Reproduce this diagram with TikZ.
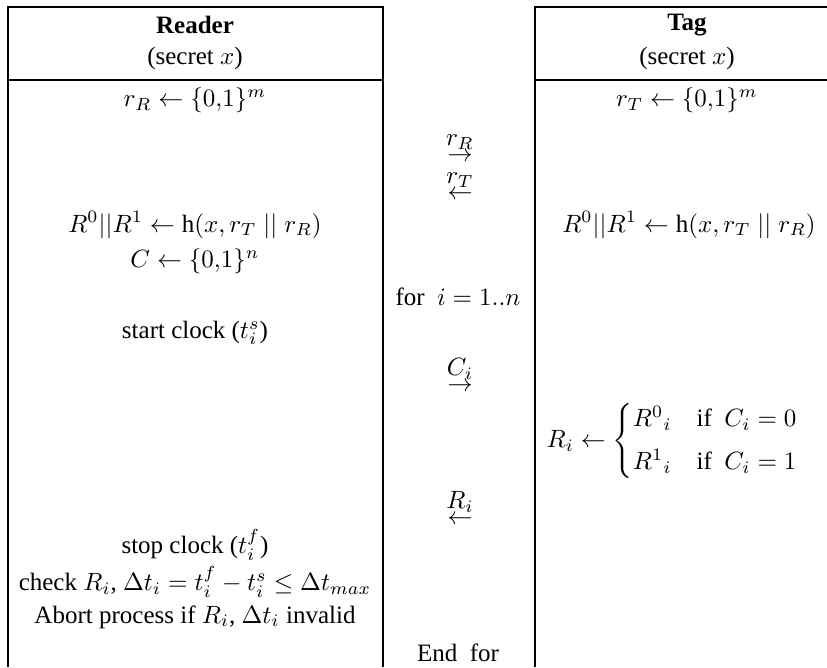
\documentclass[tikz,border=0pt]{standalone}
\usepackage{amsmath}
\usepackage{fontspec}
\setmainfont{Liberation Serif}
\newcommand{\sendmsg}[2]{\ensuremath{\overset{\textstyle #1}{#2}}}
\tikzset{
  cell/.style={inner sep=1pt, anchor=center},
  rule/.style={line width=0.5pt}
}
\begin{document}
\begin{tikzpicture}[x=0.4pt,y=-0.4pt]
        \useasboundingbox (0,0) rectangle (827,667);
        % frames
        \draw[rule] (8,667) -- (8,7) -- (383,7) -- (383,667);
        \draw[rule] (8,80) -- (383,80);
        \draw[rule] (535,667) -- (535,7) -- (827,7);
        \draw[rule] (535,80) -- (827,80);
        % reader
        \node[cell] (reader) at (195,25) {\textbf{Reader}};
        \node[cell] (rsecret) at (195,58) {(secret $x$)};
        \node[cell] (rnonce) at (195,100) {$r_R \leftarrow \{0{,}1\}^m$};
        \node[cell] (rhash) at (195,225) {$R^0||R^1 \leftarrow \mathrm{h}(x, r_T \;||\; r_R)$};
        \node[cell] (rchal) at (195,261) {$C \leftarrow \{0{,}1\}^n$};
        \node[cell] (rstart) at (195,333) {start clock ($t_i^s$)};
        \node[cell] (rstop) at (195,545) {stop clock ($t_i^f$)};
        \node[cell] (rcheck) at (195,582) {check $R_i$, $\Delta t_i = t_i^f - t_i^s \leq \Delta t_{max}$};
        \node[cell] (rabort) at (195,617) {Abort process if $R_i$, $\Delta t_i$ invalid};
        % messages
        \node[cell] (mrr) at (460,147) {\sendmsg{r_R}{\rightarrow}};
        \node[cell] (mrt) at (460,185) {\sendmsg{r_T}{\leftarrow}};
        \node[cell] (mfor) at (458,297) {for \ $i = 1..n$};
        \node[cell] (mci) at (460,374) {\sendmsg{C_i}{\rightarrow}};
        \node[cell] (mri) at (460,507) {\sendmsg{R_i}{\leftarrow}};
        \node[cell] (mend) at (458,653) {End \ for};
        % tag
        \node[cell] (tag) at (687,25) {\textbf{Tag}};
        \node[cell] (tsecret) at (687,58) {(secret $x$)};
        \node[cell] (tnonce) at (687,100) {$r_T \leftarrow \{0{,}1\}^m$};
        \node[cell] (thash) at (689,225) {$R^0||R^1 \leftarrow \mathrm{h}(x, r_T \;||\; r_R)$};
        \node[cell] (tresp) at (673,441) {$R_i \leftarrow \begin{cases} {R^0}_i & \text{if \ $C_i = 0$}\\[3pt] {R^1}_i & \text{if \ $C_i = 1$} \end{cases}$};
\end{tikzpicture}
\end{document}
